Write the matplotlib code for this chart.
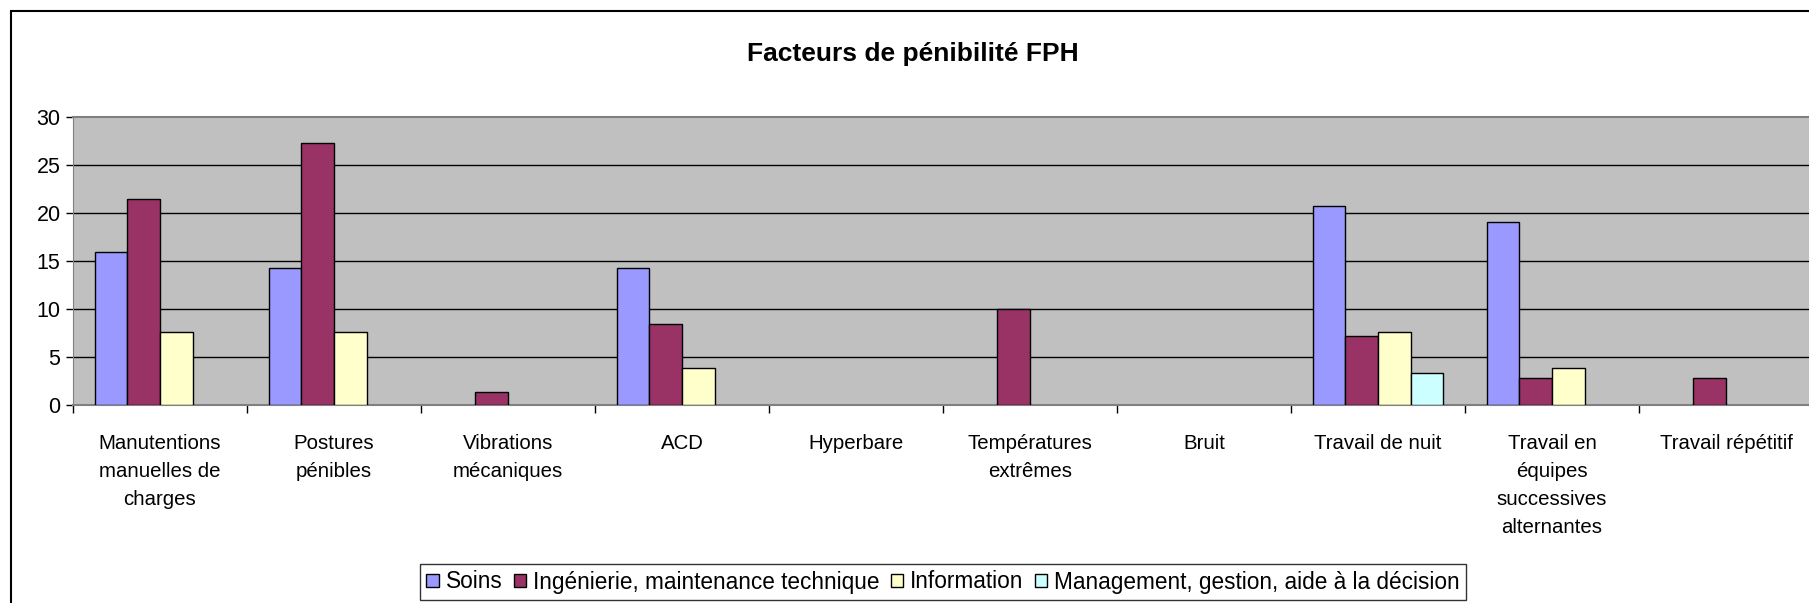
import numpy as np
import matplotlib
matplotlib.use("Agg")
import matplotlib.pyplot as plt
from matplotlib.patches import Rectangle, Patch

plt.rcParams['font.family'] = ['Liberation Sans', 'DejaVu Sans']

# Data
categories = [
    "Manutentions\nmanuelles de\ncharges",
    "Postures\npénibles",
    "Vibrations\nmécaniques",
    "ACD",
    "Hyperbare",
    "Températures\nextrêmes",
    "Bruit",
    "Travail de nuit",
    "Travail en\néquipes\nsuccessives\nalternantes",
    "Travail répétitif",
]
series_names = ["Soins", "Ingénierie, maintenance technique", "Information",
                "Management, gestion, aide à la décision"]
soins = [15.9, 14.3, 0, 14.3, 0, 0, 0, 20.7, 19.1, 0]
ingenierie = [21.5, 27.3, 1.4, 8.4, 0, 10.0, 0, 7.2, 2.8, 2.8]
information = [7.6, 7.6, 0, 3.9, 0, 0, 0, 7.6, 3.9, 0]
management = [0, 0, 0, 0, 0, 0, 0, 3.3, 0, 0]
colors = ["#9999FF", "#993366", "#FFFFCC", "#CCFFFF"]
yticks = [0, 5, 10, 15, 20, 25, 30]

W, H = 1809, 603
fig = plt.figure(figsize=(W / 100, H / 100), dpi=100)

# outer chart frame (cut off on the right and bottom like the reference)
fig.patches.append(Rectangle((11 / W, -0.1), 1.2, 1 - 11 / H + 0.1, transform=fig.transFigure,
                             fill=False, edgecolor="black", linewidth=1.5, clip_on=False))

ax = fig.add_axes([73 / W, (H - 405) / H, 1740 / W, 288 / H])
ax.set_facecolor("#C0C0C0")

x = np.arange(len(categories))
bw = 0.1875
all_series = [soins, ingenierie, information, management]
for i, (vals, col) in enumerate(zip(all_series, colors)):
    pos = x - 0.375 + bw * (i + 0.5)
    vals = np.array(vals, dtype=float)
    mask = vals > 0
    ax.bar(pos[mask], vals[mask], width=bw, color=col, edgecolor="black",
           linewidth=1.0, zorder=3)

ax.set_xlim(-0.5, len(categories) - 0.5)
ax.set_ylim(0, 30)
ax.set_yticks(yticks)
ax.set_yticklabels([str(t) for t in yticks], fontsize=15.5)
for t in yticks[1:-1]:
    ax.axhline(t, color="black", linewidth=1.0, zorder=1)

ax.set_xticks(np.arange(len(categories) + 1) - 0.5, minor=False)
ax.set_xticklabels([])
ax.set_xticks(x, minor=True)
ax.set_xticklabels(categories, minor=True, fontsize=14.7, va="top", linespacing=1.6)
ax.tick_params(axis="x", which="major", direction="out", length=6, width=1, color="black")
ax.tick_params(axis="x", which="minor", length=0, pad=21)
ax.tick_params(axis="y", direction="out", length=5, width=1, pad=4)

for side in ["top", "right"]:
    ax.spines[side].set_color("#808080")
    ax.spines[side].set_linewidth(1.5)
ax.spines["left"].set_color("#808080")
ax.spines["bottom"].set_color("#808080")
ax.spines["bottom"].set_linewidth(1.5)

fig.text(913 / W, 1 - 54 / H, "Facteurs de pénibilité FPH", ha="center", va="center",
         fontsize=19, fontweight="bold")

handles = [Patch(facecolor=c, edgecolor="black", linewidth=1.0) for c in colors]
leg = fig.legend(handles, series_names, loc="center", bbox_to_anchor=(943 / W, 1 - 582 / H),
                 ncol=4, fontsize=16.3, frameon=True, fancybox=False, handlelength=0.55,
                 handleheight=0.55, handletextpad=0.3, columnspacing=0.5, borderpad=0.3,
                 borderaxespad=0)
leg.get_frame().set_edgecolor("black")
leg.get_frame().set_linewidth(1.0)

fig.savefig("out.png", dpi=100)
